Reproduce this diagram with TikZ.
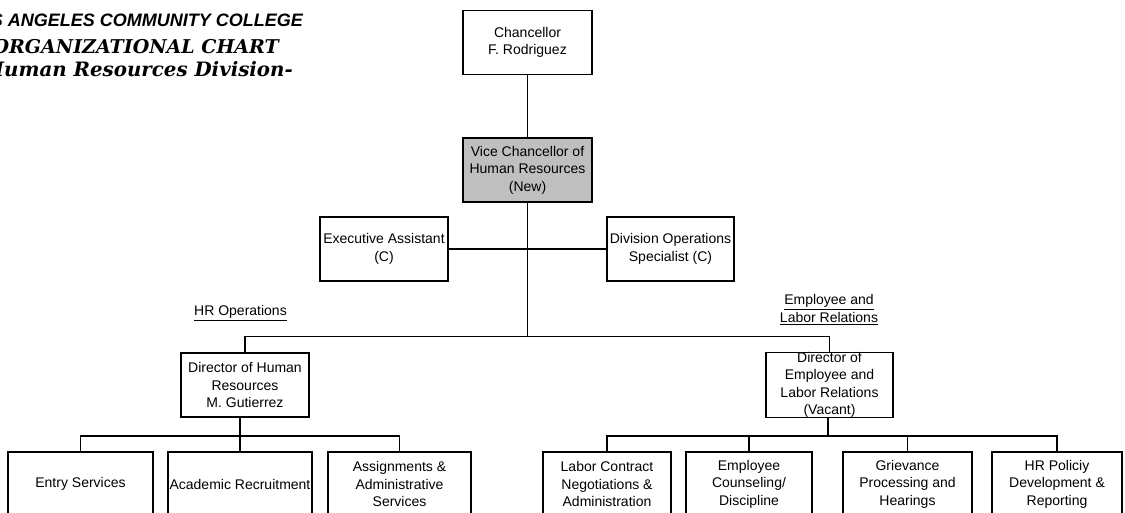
\documentclass[tikz,border=0pt]{standalone}
\usepackage{fontspec}
\setmainfont{Liberation Sans}
\newfontfamily\titlesans{Liberation Sans}
\newfontfamily\titleserif{DejaVu Serif}
\begin{document}
\begin{tikzpicture}[x=1pt,y=-1pt,
  orgbox/.style={draw, line width=1.1pt, inner sep=0pt, minimum height=64pt, align=center,
    font=\fontsize{14}{17.5}\selectfont},
  link/.style={line width=1.1pt},
  lbl/.style={inner sep=0pt, align=center, font=\fontsize{14}{17.5}\selectfont}]
\useasboundingbox (0,0) rectangle (1125,513);
\clip (0,0) rectangle (1125,513);
% title
\node[anchor=base east, inner sep=0pt, font=\titlesans\bfseries\itshape\fontsize{18}{20}\selectfont] (t1) at (303,27) {LOS ANGELES COMMUNITY COLLEGE};
\node[anchor=base east, inner sep=0pt, font=\titleserif\bfseries\itshape\fontsize{19}{21}\selectfont] (t2) at (279,54) {ORGANIZATIONAL CHART};
\node[anchor=base east, inner sep=0pt, font=\titleserif\bfseries\itshape\fontsize{19.8}{21}\selectfont] (t3) at (293,77) {Human Resources Division-};
% boxes
\node[orgbox, minimum width=129pt] (chan) at (527.5,42.5) {Chancellor\\F. Rodriguez};
\node[orgbox, minimum width=129pt, fill=gray!50] (vc) at (527.5,170) {Vice Chancellor of\\Human Resources\\(New)};
\node[orgbox, minimum width=128pt] (ea) at (384,249) {Executive Assistant\\(C)};
\node[orgbox, minimum width=127pt] (dos) at (670.5,249) {Division Operations\\Specialist (C)};
\node[orgbox, minimum width=128pt] (dhr) at (245,385) {Director of Human\\Resources\\M. Gutierrez};
\node[orgbox, minimum width=127pt] (delr) at (829.5,385) {Director of\\Employee and\\Labor Relations\\(Vacant)};
\node[orgbox, minimum width=145pt] (entry) at (80.5,484) {Entry Services};
\node[orgbox, minimum width=144pt] (acad) at (240,484) {Academic Recruitment};
\node[orgbox, minimum width=143pt] (assign) at (399.5,484) {Assignments \&\\Administrative\\Services};
\node[orgbox, minimum width=128pt] (labor) at (607,484) {Labor Contract\\Negotiations \&\\Administration};
\node[orgbox, minimum width=126pt] (ec) at (749,484) {Employee\\Counseling/\\Discipline};
\node[orgbox, minimum width=129pt] (griev) at (907.5,484) {Grievance\\Processing and\\Hearings};
\node[orgbox, minimum width=130pt] (hrp) at (1057,484) {HR Policiy\\Development \&\\Reporting};
% labels
\node[lbl] (lhr) at (240.5,313) {\underline{HR Operations}};
\node[lbl] (lelr) at (829,309.5) {\underline{Employee and}\\\underline{Labor Relations}};
% junctions
\coordinate (mj) at (527.5,336.5);
\coordinate (lj) at (240,436);
\coordinate (rj) at (828,436);
% connectors
\draw[link] (chan) -- (vc);
\draw[link] (vc) -- (mj);
\draw[link] (ea) -- (dos);
\draw[link] (dhr) |- (mj) -| (delr);
\draw[link] (dhr.south -| lj) -- (lj);
\draw[link] (entry) |- (lj) -| (assign);
\draw[link] (acad) -- (lj);
\draw[link] (delr.south -| rj) -- (rj);
\draw[link] (labor) |- (rj) -| (hrp);
\draw[link] (ec) |- (rj);
\draw[link] (griev) |- (rj);
\end{tikzpicture}
\end{document}
